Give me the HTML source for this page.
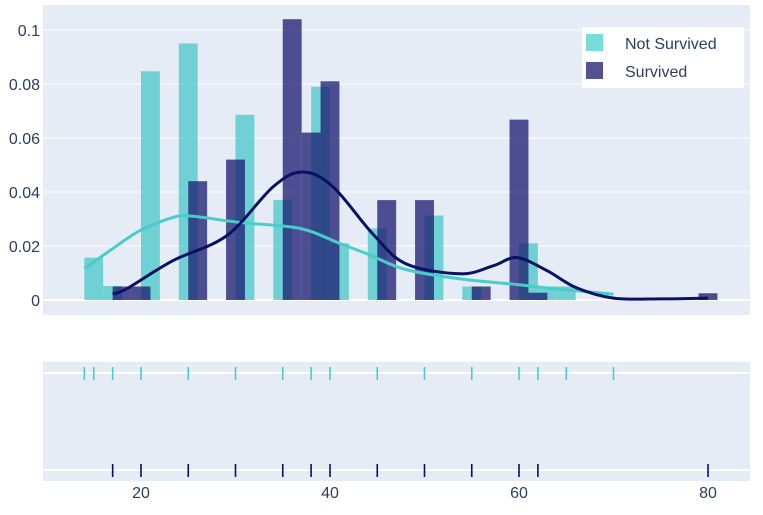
<!DOCTYPE html>
<html><head><meta charset="utf-8"><style>
body{margin:0;background:#fff;}
svg{display:block;font-family:"Liberation Sans",sans-serif;}
</style></head><body>
<svg id="c" width="763" height="515">
<rect x="43" y="5" width="707" height="310" fill="#e5ecf6"/>
<rect x="43" y="362" width="707" height="119" fill="#e5ecf6"/>
<g id="grid"></g><g id="bars"></g><g id="curves"></g><g id="rug"></g><g id="axes"></g>
<g>
<rect x="582" y="27" width="162" height="61" fill="#fff"/>
<rect x="586" y="34" width="17" height="17" fill="rgb(72,209,204)" opacity="0.75"/>
<text x="625" y="49" font-size="16" fill="#2a3f5f">Not Survived</text>
<rect x="586" y="62" width="17" height="17" fill="rgb(25,25,112)" opacity="0.75"/>
<text x="625" y="77" font-size="16" fill="#2a3f5f">Survived</text>
</g>
</svg>
<script>
const yTicks=[0,0.02,0.04,0.06,0.08,0.1];
const yTickLabels=["0","0.02","0.04","0.06","0.08","0.1"];
const xTicks=[20,40,60,80];
const nsBinStarts=[14,16,20,24,30,34,38,40,44,50,54,60,62,64];
const nsBinValues=[0.0157,0.0052,0.0847,0.095,0.0686,0.037,0.079,0.021,0.0265,0.0313,0.005,0.021,0.005,0.005];
const sBinStarts=[17,19,25,29,35,37,39,45,49,55,59,61,79];
const sBinValues=[0.005,0.005,0.044,0.052,0.104,0.062,0.081,0.037,0.037,0.005,0.0668,0.0027,0.0025];
const binWidth=2;
const nsKdeX=[14,17,19.9,23.4,25.5,30.5,36.8,41,44,48,53.8,59,64.3,70];
const nsKdeY=[0.0116,0.019,0.0257,0.0306,0.031,0.0287,0.0265,0.021,0.017,0.0113,0.0078,0.006,0.004,0.0022];
const sKdeX=[17,18.5,23.4,29.1,34,37.1,40.3,44.5,48,53.8,57.3,59.8,63,66.1,70,75,80];
const sKdeY=[0.0022,0.0042,0.0146,0.0239,0.042,0.0474,0.042,0.0246,0.0135,0.0097,0.0127,0.0157,0.0108,0.0045,0.0007,0.0004,0.0007];
const nsRug=[14,15,17,20,25,30,35,38,40,45,50,55,60,62,65,70];
const sRug=[17,20,25,30,35,38,40,45,50,55,60,62,80];

const NS="http://www.w3.org/2000/svg";
const xs=v=>-48+9.45*v;
const ys=v=>300-2700*v;
function mk(tag,attrs,parent){const e=document.createElementNS(NS,tag);for(const k in attrs)e.setAttribute(k,attrs[k]);document.getElementById(parent).appendChild(e);return e;}
yTicks.forEach((t,i)=>{
  const l=mk('line',{x1:43,x2:750,y1:ys(t),y2:ys(t),stroke:'#fff','stroke-width':t===0?2:1},'grid');
  
  
  const tx=mk('text',{x:40,y:ys(t)+6,'text-anchor':'end','font-size':16,fill:'#2a3f5f'},'axes');
  tx.textContent=yTickLabels[i];
  
  
});
xTicks.forEach(t=>{
  const tx=mk('text',{x:xs(t),y:498,'text-anchor':'middle','font-size':16,fill:'#2a3f5f'},'axes');
  tx.textContent=t;
  
  
});
[373,470].forEach(y=>{
  const l=mk('line',{x1:43,x2:750,y1:y,y2:y,stroke:'#fff','stroke-width':2},'grid');
  
  
});
function bars(starts,vals,color,name){
  starts.forEach((s,i)=>{
    const r=mk('rect',{x:xs(s),y:ys(vals[i]),width:xs(s+binWidth)-xs(s),height:ys(0)-ys(vals[i]),fill:color,opacity:0.75},'bars');
    
    
  });
}
bars(nsBinStarts,nsBinValues,'rgb(72,200,200)','bar-not-survived');
bars(sBinStarts,sBinValues,'rgb(25,25,112)','bar-survived');
function curve(X,Y,color,name){
  const P=X.map((x,i)=>[xs(x),ys(Y[i])]);
  let d='M'+P[0][0].toFixed(1)+','+P[0][1].toFixed(1);
  for(let i=0;i<P.length-1;i++){
    const p0=P[Math.max(0,i-1)],p1=P[i],p2=P[i+1],p3=P[Math.min(P.length-1,i+2)];
    const c1=[p1[0]+(p2[0]-p0[0])/6,p1[1]+(p2[1]-p0[1])/6];
    const c2=[p2[0]-(p3[0]-p1[0])/6,p2[1]-(p3[1]-p1[1])/6];
    d+='C'+c1.map(v=>v.toFixed(1)).join(',')+' '+c2.map(v=>v.toFixed(1)).join(',')+' '+p2.map(v=>v.toFixed(1)).join(',');
  }
  const p=mk('path',{d:d,fill:'none',stroke:color,'stroke-width':3,'stroke-linejoin':'round'},'curves');
  
  
}
curve(nsKdeX,nsKdeY,'rgb(72,205,202)','kde-curve-not-survived');
curve(sKdeX,sKdeY,'rgb(8,18,100)','kde-curve-survived');
function rug(vals,y,color,name){
  vals.forEach(v=>{
    const l=mk('line',{x1:xs(v),x2:xs(v),y1:y-6,y2:y+7,stroke:color,'stroke-width':1.6},'rug');
    
    
  });
}
rug(nsRug,373,'rgb(72,205,202)','rug-mark-not-survived');
rug(sRug,470,'rgb(8,18,100)','rug-mark-survived');
</script>
</body></html>
